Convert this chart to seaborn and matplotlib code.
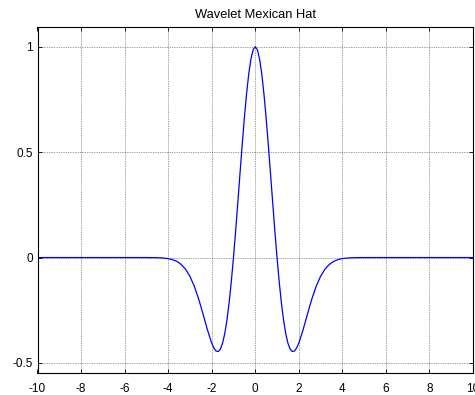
import numpy as np
import pandas as pd
import matplotlib
matplotlib.use("Agg")
import matplotlib.pyplot as plt
import seaborn as sns

# Mexican hat wavelet samples on the right half (x >= 0); the curve is even.
x_half = [0.0, 0.1, 0.2, 0.3, 0.4, 0.5, 0.6, 0.7, 0.8, 0.9,
          1.0, 1.1, 1.2, 1.3, 1.4, 1.5, 1.6, 1.7, 1.8, 1.9,
          2.0, 2.2, 2.4, 2.6, 2.8, 3.0, 3.2, 3.4, 3.6, 3.8,
          4.0, 4.2, 4.4, 4.6, 4.8, 5.0, 10.0]
psi_half = [1.0, 0.9851, 0.9410, 0.8700, 0.7754, 0.6619, 0.5346, 0.3992, 0.2614, 0.1267,
            0.0, -0.1147, -0.2142, -0.2964, -0.3603, -0.4058, -0.4337, -0.4456, -0.4433, -0.4293,
            -0.4060, -0.3415, -0.2672, -0.1961, -0.1357, -0.0889, -0.0552, -0.0326, -0.0183, -0.0098,
            -0.0050, -0.0025, -0.0012, -0.0005, -0.0002, 0.0, 0.0]

x_ticks = [-10, -8, -6, -4, -2, 0, 2, 4, 6, 8, 10]
y_ticks = [-0.5, 0, 0.5, 1]
y_tick_labels = ["-0.5", "0", "0.5", "1"]
title_text = "Wavelet Mexican Hat"

x_full = [-v for v in x_half[:0:-1]] + x_half
psi_full = psi_half[:0:-1] + psi_half
df = pd.DataFrame({"x": x_full, "psi": psi_full})

sns.set_theme(style="white")
plt.rcParams["font.family"] = ["Liberation Sans", "DejaVu Sans"]

fig = plt.figure(figsize=(4.75, 3.95), dpi=100)
ax = fig.add_axes([37.5 / 475, 1 - 373 / 395, (473 - 37.5) / 475, (373 - 26.7) / 395])

sns.lineplot(data=df, x="x", y="psi", ax=ax, color=(0, 0, 1), linewidth=0.9,
             sort=False, estimator=None)

ax.set_xlim(-10, 10)
ax.set_ylim(-0.5475, 1.095)
ax.set_xticks(x_ticks)
ax.set_xticklabels([str(t) for t in x_ticks])
ax.set_yticks(y_ticks)
ax.set_yticklabels(y_tick_labels)
ax.set_xlabel("")
ax.set_ylabel("")
ax.set_title(title_text, fontsize=9.3, pad=6, color="black")

ax.grid(True, color="black", linestyle=(0, (1, 1.5)), linewidth=0.5, alpha=0.75)
ax.tick_params(axis="both", which="both", direction="in", length=3, width=0.6,
               top=True, right=True, bottom=True, left=True,
               labelsize=8.5, colors="black", pad=3.5)
ax.tick_params(axis="x", pad=7)
for side in ["left", "right", "top", "bottom"]:
    ax.spines[side].set_visible(True)
    ax.spines[side].set_color("black")
    ax.spines[side].set_linewidth(0.8)

fig.savefig("out.png", dpi=100)
